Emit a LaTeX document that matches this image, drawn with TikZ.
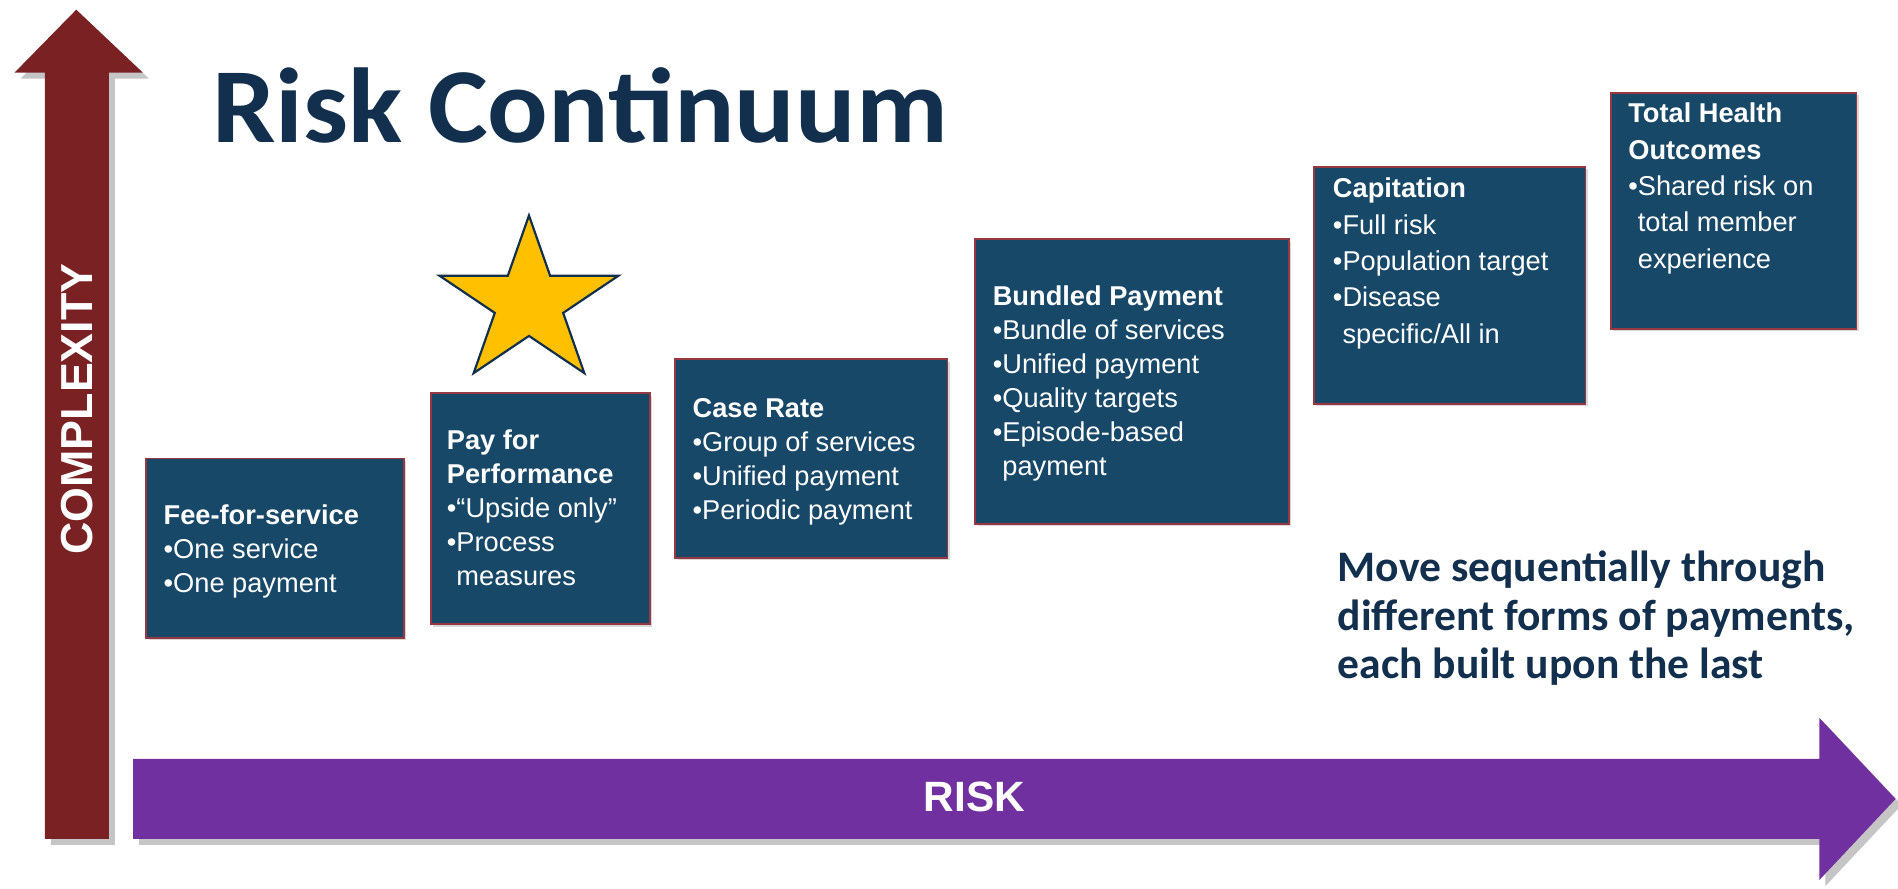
\documentclass[tikz,border=0pt]{standalone}
\usepackage{fontspec}
\setmainfont{Liberation Sans}
\newfontfamily\calibri{Carlito}
\usetikzlibrary{shadows}
\definecolor{boxblue}{RGB}{24,72,104}
\definecolor{boxedge}{RGB}{150,55,65}
\definecolor{arrowred}{RGB}{122,33,36}
\definecolor{arrowpurple}{RGB}{112,48,160}
\definecolor{titlenavy}{RGB}{18,47,77}
\definecolor{stargold}{RGB}{255,192,0}
\newcommand{\bul}{\textbullet}
\newcommand{\ind}{\phantom{\textbullet}}
\tikzset{
  paybox/.style={fill=boxblue, draw=boxedge, line width=1.5pt, anchor=north west, inner sep=0pt,
    drop shadow={shadow xshift=2pt, shadow yshift=-2pt, opacity=0.3}},
  boxtext/.style={anchor=north west, inner sep=0pt, align=left, text=white,
    font=\fontsize{22.5}{28}\selectfont},
  boxtextwide/.style={boxtext, font=\fontsize{22.5}{30}\selectfont},
  bigarrow/.style={drop shadow={shadow xshift=5pt, shadow yshift=-5pt, opacity=0.45}},
}
\begin{document}
\begin{tikzpicture}[x=1pt,y=-1pt]
\useasboundingbox (0,0) rectangle (1568,734);
\fill[white] (0,0) rectangle (1568,734);

% vertical arrow
\fill[arrowred, bigarrow] (63,8) -- (118,60) -- (90,60) -- (90,693) -- (37,693) -- (37,60) -- (12,60) -- cycle;
\node[rotate=90, text=white, font=\bfseries\fontsize{37}{37}\selectfont] (cx) at (64,338) {COMPLEXITY};

% horizontal arrow
\fill[arrowpurple, bigarrow] (110,627) -- (1503,627) -- (1503,593) -- (1566,660) -- (1503,727) -- (1503,693) -- (110,693) -- cycle;
\node[text=white, font=\bfseries\fontsize{35}{35}\selectfont] (risk) at (805,658) {RISK};

% title
\node[anchor=base west, inner sep=0pt, text=titlenavy, font=\calibri\bfseries\fontsize{88}{88}\selectfont] (title) at (175,118) {\scalebox{1.06}[1]{Risk Continuum}};

% boxes
\node[paybox, minimum width=213pt, minimum height=148pt] (b1) at (120,378) {};
\node[paybox, minimum width=181pt, minimum height=191pt] (b2) at (355,324) {};
\node[paybox, minimum width=225pt, minimum height=164pt] (b3) at (557,296) {};
\node[paybox, minimum width=259pt, minimum height=235pt] (b4) at (805,197) {};
\node[paybox, minimum width=224pt, minimum height=196pt] (b5) at (1085,137) {};
\node[paybox, minimum width=203pt, minimum height=195pt] (b6) at (1330,76) {};

\node[boxtext] (t1) at (135,417) {\textbf{Fee-for-service}\\\bul One service\\\bul One payment};
\node[boxtext] (t2) at (369,355) {\textbf{Pay for}\\\textbf{Performance}\\\bul “Upside only”\\\bul Process\\\ind measures};
\node[boxtext] (t3) at (572,329) {\textbf{Case Rate}\\\bul Group of services\\\bul Unified payment\\\bul Periodic payment};
\node[boxtext] (t4) at (820,236) {\textbf{Bundled Payment}\\\bul Bundle of services\\\bul Unified payment\\\bul Quality targets\\\bul Episode-based\\\ind payment};
\node[boxtextwide] (t5) at (1101,147) {\textbf{Capitation}\\\bul Full risk\\\bul Population target\\\bul Disease\\\ind specific/All in};
\node[boxtextwide] (t6) at (1345,85) {\textbf{Total Health}\\\textbf{Outcomes}\\\bul Shared risk on\\\ind total member\\\ind experience};

% star
\begin{scope}[shift={(437,250)}, xscale=1.08]
\draw[fill=stargold, draw=titlenavy, line width=1.8pt, line join=miter]
  (-90:72) -- (-54:27.5) -- (-18:72) -- (18:27.5) -- (54:72) -- (90:27.5)
  -- (126:72) -- (162:27.5) -- (198:72) -- (234:27.5) -- cycle;
\end{scope}

% note
\node[anchor=north west, inner sep=0pt, align=left, text=titlenavy,
  font=\calibri\bfseries\fontsize{36}{40}\selectfont] (note) at (1105,455)
  {Move sequentially through\\different forms of payments,\\each built upon the last};
\end{tikzpicture}
\end{document}
